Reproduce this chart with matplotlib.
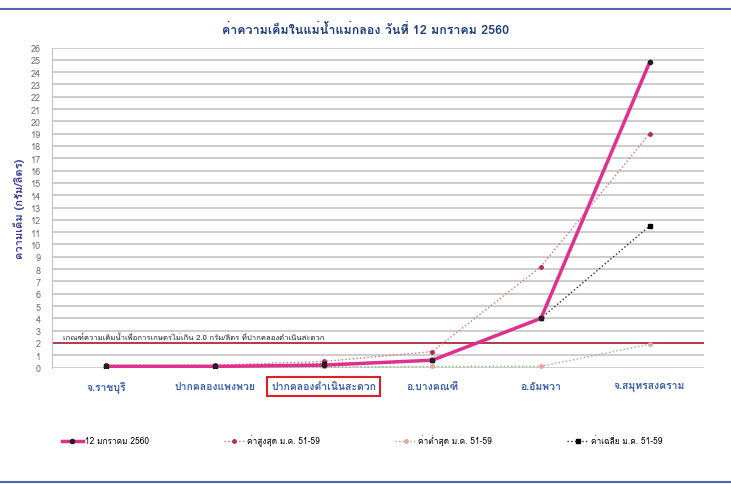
import matplotlib
matplotlib.use('Agg')
from matplotlib import pyplot as plt
from matplotlib import font_manager, ft2font
from matplotlib.lines import Line2D
import numpy as np

# find a font that can draw Thai
thai_font = None
for f in font_manager.fontManager.ttflist:
    try:
        if 0x0E01 in ft2font.FT2Font(f.fname).get_charmap():
            thai_font = f.name
            break
    except Exception:
        pass
fams = [thai_font, 'DejaVu Sans'] if thai_font else ['DejaVu Sans']
plt.rcParams['font.family'] = fams

#Data
stations = ['จ.ราชบุรี', 'ปากคลองแพงพวย', 'ปากคลองดำเนินสะดวก', 'อ.บางคณฑี', 'อ.อัมพวา', 'จ.สมุทรสงคราม']
jan12 = [0.1, 0.1, 0.2, 0.6, 4.0, 24.8]
max_5159 = [0.2, 0.2, 0.5, 1.3, 8.2, 19.0]
min_5159 = [0.05, 0.05, 0.05, 0.1, 0.1, 1.9]
mean_5159 = [0.1, 0.1, 0.3, 0.6, 4.0, 11.5]
limit = 2.0

title = 'ค่าความเค็มในแม่น้ำแม่กลอง วันที่ 12 มกราคม 2560'
ylabel = 'ความเค็ม (กรัม/ลิตร)'
note = 'เกณฑ์ความเค็มน้ำเพื่อการเกษตรไม่เกิน 2.0 กรัม/ลิตร ที่ปากคลองดำเนินสะดวก'
names = ['12 มกราคม 2560', 'ค่าสูงสุด ม.ค. 51-59', 'ค่าต่ำสุด ม.ค. 51-59', 'ค่าเฉลี่ย ม.ค. 51-59']

fig = plt.figure(figsize=(7.31, 4.85), dpi=100)
ax = fig.add_axes([0.071, 0.240, 0.892, 0.660])
x = np.arange(len(stations))

ax.plot(x, max_5159, color='#d9707f', lw=1, ls=':', marker='o', ms=2.5, mfc='#b03050', mec='#b03050', zorder=3)
ax.plot(x, min_5159, color='#7fbf7f', lw=1, ls=':', marker='o', ms=2.5, mfc='#f0a0a0', mec='#f0a0a0', zorder=3)
ax.plot(x, mean_5159, color='#303030', lw=1, ls=':', marker='s', ms=3.5, mfc='black', mec='black', zorder=3)
ax.plot(x, jan12, color='#e0308f', lw=2.5, marker='o', ms=3, mfc='#202020', mec='#202020', zorder=4)

ax.axhline(limit, color='#b03040', lw=1.3, zorder=2)
ax.text(-0.4, limit + 0.35, note, fontsize=5.5, color='#202020')

ax.set_xlim(-0.5, 5.5)
ax.set_ylim(0, 26)
ax.set_yticks(range(0, 27))
ax.set_xticks(x)
ax.set_xticklabels(stations, fontsize=7.5, color='#3b5fae', fontweight='bold')
ax.tick_params(axis='y', labelsize=6.5, colors='#707070', length=0, pad=8)
ax.tick_params(axis='x', length=0, pad=10)
ax.grid(axis='y', color='#c4c4c4', lw=1.2, zorder=1)
ax.set_axisbelow(True)
for s in ['top', 'right', 'bottom']:
    ax.spines[s].set_visible(False)
ax.spines['left'].set_color('#c4c4c4')
ax.set_ylabel(ylabel, fontsize=8, color='#3a3a9a', fontweight='bold', labelpad=4)

# red box round the highlighted station
lab = ax.get_xticklabels()[2]
lab.set_bbox(dict(facecolor='none', edgecolor='#e02020', lw=1.5, pad=3))

fig.text(0.5, 0.938, title, ha='center', va='center', fontsize=9, color='#1f3f7f', fontweight='bold')

handles = [
    Line2D([], [], color='#e0308f', lw=2.5, marker='o', ms=3, mfc='#202020', mec='#202020'),
    Line2D([], [], color='#d9707f', lw=1, ls=':', marker='o', ms=2.5, mfc='#b03050', mec='#b03050'),
    Line2D([], [], color='#7fbf7f', lw=1, ls=':', marker='o', ms=2.5, mfc='#f0a0a0', mec='#f0a0a0'),
    Line2D([], [], color='#303030', lw=1, ls=':', marker='s', ms=3.5, mfc='black', mec='black'),
]
fig.legend(handles, names, loc='center', bbox_to_anchor=(0.495, 0.09), ncol=4, frameon=False,
           fontsize=6, columnspacing=9, handlelength=2.5, handletextpad=0.3)

# blue border lines top and bottom
fig.add_artist(Line2D([0, 1], [0.979, 0.979], color='#4a6aa8', lw=1.5, transform=fig.transFigure))
fig.add_artist(Line2D([0, 1], [0.004, 0.004], color='#4a6aa8', lw=1.5, transform=fig.transFigure))

fig.savefig('out.png', dpi=100)
